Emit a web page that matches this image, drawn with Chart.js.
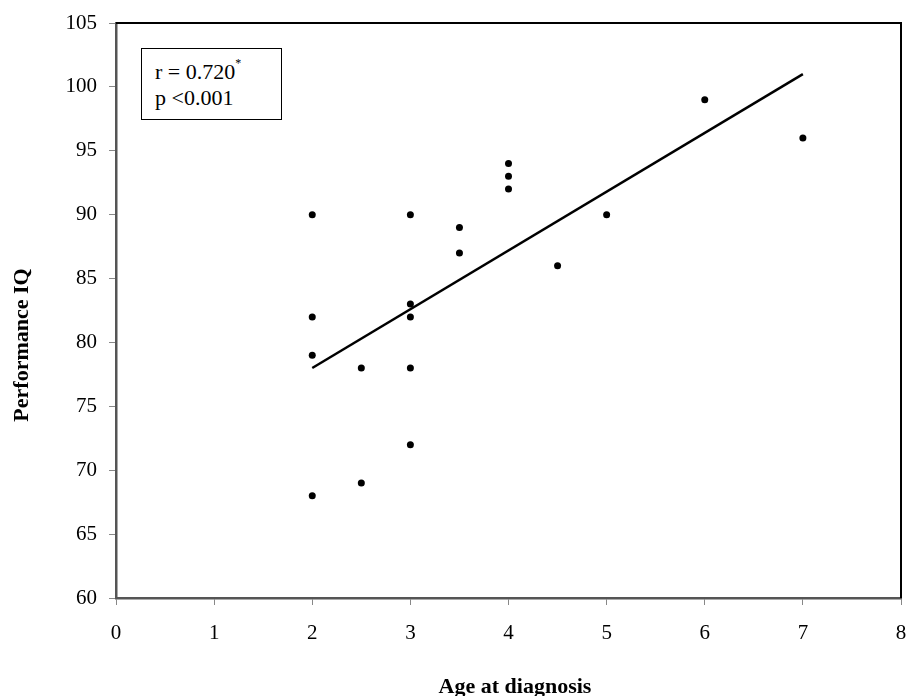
<!DOCTYPE html>
<html>
<head>
<meta charset="utf-8">
<script src="https://cdn.jsdelivr.net/npm/chart.js@4.4.0/dist/chart.umd.min.js"></script>
<style>
  body { margin: 0; background: #fff; }
  #wrap { position: relative; width: 906px; height: 696px; }
  #statBox {
    position: absolute; left: 141px; top: 48px; width: 141px; height: 72px;
    border: 1.5px solid #000; background: #fff;
    font-family: "Liberation Serif", serif; font-size: 22px; line-height: 26px;
    padding: 10px 0 0 13px; box-sizing: border-box; color: #000;
  }
  #statBox sup { font-size: 12px; position: relative; top: -2px; vertical-align: top; line-height: 12px; }
</style>
</head>
<body>
<div id="wrap">
  <canvas id="chart" width="906" height="696"></canvas>
  <div id="statBox">r = 0.720<sup>*</sup><br>p &lt;0.001</div>
</div>
<script>
// age at diagnosis (years) vs performance IQ
const ageAtDiagnosis = [2, 2, 2, 2, 2.5, 2.5, 3, 3, 3, 3, 3, 3.5, 3.5, 4, 4, 4, 4.5, 5, 6, 7];
const performanceIQ  = [90, 82, 79, 68, 78, 69, 90, 83, 82, 78, 72, 89, 87, 94, 93, 92, 86, 90, 99, 96];

// regression line end points
const trendX = [2, 7];
const trendY = [78, 101];

const xTitle = "Age at diagnosis";
const yTitle = "Performance IQ";

const serif = "'Liberation Serif', 'Times New Roman', serif";

const scatterPoints = ageAtDiagnosis.map((a, i) => ({ x: a, y: performanceIQ[i] }));
const trendPoints = trendX.map((a, i) => ({ x: a, y: trendY[i] }));

// top + right frame and the two axis titles
const framePlugin = {
  id: 'frame',
  afterDraw(chart) {
    const { ctx, chartArea } = chart;
    ctx.save();
    ctx.strokeStyle = '#000';
    ctx.lineWidth = 2;
    ctx.beginPath();
    ctx.moveTo(chartArea.left, chartArea.top);
    ctx.lineTo(chartArea.right, chartArea.top);
    ctx.lineTo(chartArea.right, chartArea.bottom);
    ctx.stroke();

    ctx.fillStyle = '#000';
    ctx.font = "bold 22px " + serif;
    ctx.textAlign = 'center';
    ctx.textBaseline = 'middle';
    ctx.fillText(xTitle, 515, 687);
    ctx.translate(22, 345);
    ctx.rotate(-Math.PI / 2);
    ctx.fillText(yTitle, 0, 0);
    ctx.restore();
  }
};

new Chart(document.getElementById('chart'), {
  type: 'scatter',
  data: {
    datasets: [
      {
        data: scatterPoints,
        backgroundColor: '#000',
        borderWidth: 0,
        pointRadius: 3.5,
        pointHoverRadius: 3.5
      },
      {
        type: 'line',
        data: trendPoints,
        borderColor: '#000',
        borderWidth: 2.5,
        pointRadius: 0,
        fill: false
      }
    ]
  },
  options: {
    responsive: false,
    animation: false,
    layout: { padding: { top: 23, right: 5, left: 0, bottom: 0 } },
    plugins: { legend: { display: false }, tooltip: { enabled: false } },
    scales: {
      x: {
        type: 'linear',
        min: 0, max: 8,
        afterFit(scale) { scale.height = 98; scale.paddingLeft = 0; scale.paddingRight = 0; },
        ticks: { stepSize: 1, color: '#000', padding: 16, font: { family: serif, size: 21 } },
        grid: { drawOnChartArea: false, drawTicks: true, tickLength: 7, color: '#888' },
        border: { color: '#555', width: 2.5 }
      },
      y: {
        type: 'linear',
        min: 60, max: 105,
        afterFit(scale) { scale.width = 116; scale.paddingTop = 0; scale.paddingBottom = 0; },
        ticks: { stepSize: 5, color: '#000', padding: 12, font: { family: serif, size: 21 } },
        grid: { drawOnChartArea: false, drawTicks: true, tickLength: 7, color: '#888' },
        border: { color: '#555', width: 2.5 }
      }
    }
  },
  plugins: [framePlugin]
});
</script>
</body>
</html>
